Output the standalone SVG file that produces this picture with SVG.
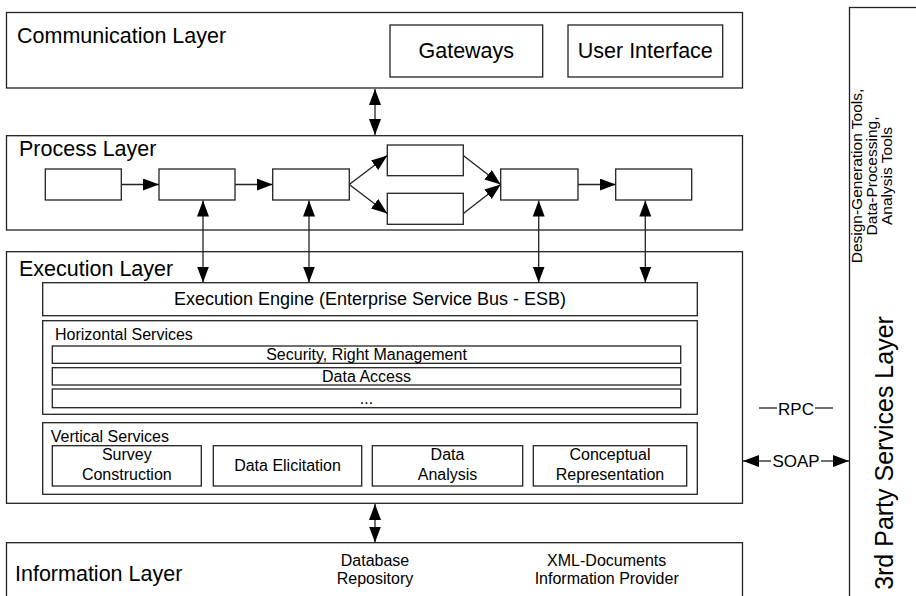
<svg xmlns="http://www.w3.org/2000/svg" width="916" height="596" viewBox="0 0 916 596">
<style>
rect{fill:#fff;stroke:#222;stroke-width:1.3}
text{font-family:"Liberation Sans",Arial,sans-serif;fill:#000}
.l{font-size:21.5px}
.m{font-size:18px}
.s{font-size:16px}
.c{text-anchor:middle}
.cn line{stroke:#222;stroke-width:1.3}
.a{marker-end:url(#ah)}
.d{marker-start:url(#ahs);marker-end:url(#ah)}
</style>
<defs>
<marker id="ah" markerUnits="userSpaceOnUse" markerWidth="17" markerHeight="13" refX="16" refY="6" orient="auto"><path d="M0,0 L16,6 L0,12 z" fill="#000"/></marker>
<marker id="ahs" markerUnits="userSpaceOnUse" markerWidth="17" markerHeight="13" refX="0" refY="6" orient="auto"><path d="M16,0 L0,6 L16,12 z" fill="#000"/></marker>
</defs>

<g id="communication-layer">
<rect x="6.5" y="12.5" width="736" height="75.5"/>
<text class="l" x="17" y="43">Communication Layer</text>
</g>
<g id="gateways">
<rect x="390" y="25" width="152.7" height="52"/>
<text class="l c" x="466.3" y="58">Gateways</text>
</g>
<g id="user-interface">
<rect x="568" y="25" width="154.7" height="52"/>
<text class="l c" x="645.3" y="58">User Interface</text>
</g>

<g id="third-party-layer">
<rect x="849.5" y="7.5" width="90" height="610"/>
<text class="c" style="font-size:15.5px" transform="translate(862,176) rotate(-90)">Design-Generation Tools,</text>
<text class="c" style="font-size:15.5px" transform="translate(877,176) rotate(-90)">Data-Processing,</text>
<text class="c" style="font-size:15.5px" transform="translate(892,176) rotate(-90)">Analysis Tools</text>
<text class="c" style="font-size:25px" transform="translate(893,453) rotate(-90)">3rd Party Services Layer</text>
</g>

<g id="process-layer">
<rect x="6.5" y="135.7" width="736" height="94.3"/>
<text class="l" x="19" y="156">Process Layer</text>
</g>
<g id="p1"><rect x="45.3" y="169" width="76" height="31"/></g>
<g id="p2"><rect x="159" y="169" width="76" height="31"/></g>
<g id="p3"><rect x="272.7" y="169" width="76.6" height="31"/></g>
<g id="p4"><rect x="387.3" y="145" width="76" height="30.7"/></g>
<g id="p5"><rect x="387.3" y="193.3" width="76" height="31"/></g>
<g id="p6"><rect x="500.7" y="169" width="77.3" height="31"/></g>
<g id="p7"><rect x="615.7" y="169" width="76" height="31"/></g>

<g id="execution-layer">
<rect x="6.5" y="251.7" width="736" height="251.6"/>
<text class="l" x="19" y="276">Execution Layer</text>
</g>
<g id="esb">
<rect x="42.7" y="282.7" width="654.6" height="33"/>
<text class="m c" x="370" y="305">Execution Engine (Enterprise Service Bus - ESB)</text>
</g>
<g id="horizontal-services">
<rect x="42.7" y="320.7" width="654.6" height="93.6"/>
<text class="s" x="55" y="340">Horizontal Services</text>
<rect x="52.3" y="346" width="628.4" height="17.3"/>
<text class="s c" x="366.5" y="360">Security, Right Management</text>
<rect x="52.3" y="367.7" width="628.4" height="17.3"/>
<text class="s c" x="366.5" y="381.5">Data Access</text>
<rect x="52.3" y="389" width="628.4" height="18.7"/>
<text class="s c" x="366.5" y="403.5">...</text>
</g>
<g id="vertical-services">
<rect x="42.7" y="422.7" width="654.6" height="71.6"/>
<text class="s" x="50.7" y="441.5">Vertical Services</text>
</g>
<g id="survey-construction">
<rect x="52.3" y="445.7" width="149" height="40.3"/>
<text class="s c" x="126.8" y="460">Survey</text>
<text class="s c" x="126.8" y="480">Construction</text>
</g>
<g id="data-elicitation">
<rect x="213.3" y="445.7" width="148.4" height="40.3"/>
<text class="s c" x="287.5" y="471">Data Elicitation</text>
</g>
<g id="data-analysis">
<rect x="372.3" y="445.7" width="150.4" height="40.3"/>
<text class="s c" x="447.5" y="460">Data</text>
<text class="s c" x="447.5" y="480">Analysis</text>
</g>
<g id="conceptual-representation">
<rect x="533.3" y="445.7" width="153.4" height="40.3"/>
<text class="s c" x="610" y="460">Conceptual</text>
<text class="s c" x="610" y="480">Representation</text>
</g>

<g id="information-layer">
<rect x="6.5" y="542.7" width="736" height="70"/>
<text class="l" x="15" y="581">Information Layer</text>
<text class="s c" x="375" y="566">Database</text>
<text class="s c" x="375" y="584">Repository</text>
<text class="s c" x="606.7" y="566">XML-Documents</text>
<text class="s c" x="606.7" y="584">Information Provider</text>
</g>

<g id="connectors" class="cn">
<line class="d" x1="375" y1="89" x2="375" y2="135"/>
<line class="a" x1="121.3" y1="184.5" x2="159" y2="184.5"/>
<line class="a" x1="235" y1="184.5" x2="272.7" y2="184.5"/>
<line class="a" x1="349.3" y1="184.5" x2="387.3" y2="155.5"/>
<line class="a" x1="349.3" y1="184.5" x2="387.3" y2="213.5"/>
<line class="a" x1="463.3" y1="155.5" x2="500.7" y2="184.5"/>
<line class="a" x1="463.3" y1="213.5" x2="500.7" y2="184.5"/>
<line class="a" x1="578" y1="184.5" x2="615.7" y2="184.5"/>
<line class="d" x1="203" y1="200.5" x2="203" y2="282.5"/>
<line class="d" x1="309" y1="200.5" x2="309" y2="282.5"/>
<line class="d" x1="538.7" y1="200.5" x2="538.7" y2="282.5"/>
<line class="d" x1="645.3" y1="200.5" x2="645.3" y2="282.5"/>
<line class="d" x1="375" y1="504" x2="375" y2="542.5"/>
<line x1="759" y1="408" x2="777" y2="408"/>
<line x1="815" y1="408" x2="833" y2="408"/>
<text class="c" style="font-size:17px" x="796" y="414.5">RPC</text>
<line class="a" x1="771" y1="461" x2="743" y2="461"/>
<line class="a" x1="821" y1="461" x2="849" y2="461"/>
<text class="c" style="font-size:17px" x="796" y="467">SOAP</text>
</g>
</svg>
